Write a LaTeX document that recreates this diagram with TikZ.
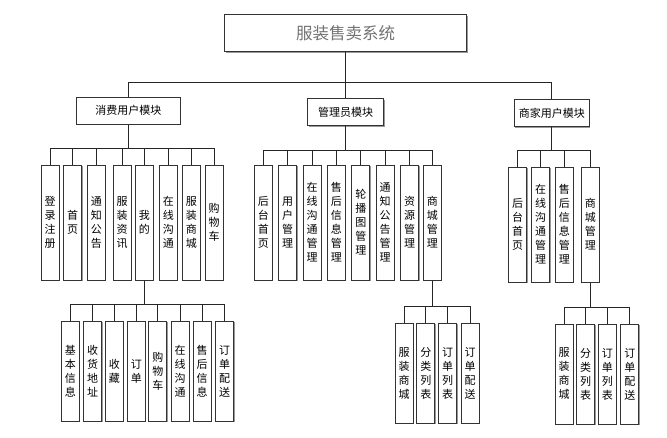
\documentclass[tikz,border=0pt]{standalone}
\usepackage{fontspec}
\newfontfamily\cjk{Noto Sans CJK SC}
\usetikzlibrary{shadows}
\begin{document}
\begin{tikzpicture}[x=1pt,y=-1pt,
  box/.style={draw=black!80, line width=1pt, fill=white, drop shadow={shadow xshift=1pt,shadow yshift=-1pt,fill=black!40,opacity=1}, inner sep=0pt},
  vbox/.style={box, minimum width=18pt, minimum height=115pt, align=center, font=\cjk\fontsize{11}{14}\selectfont},
  sbox/.style={vbox, minimum height=100pt},
  mbox/.style={box, minimum height=27pt, font=\cjk\fontsize{11}{12}\selectfont},
  conn/.style={draw=black!85, line width=0.8pt}]
\useasboundingbox (0,0) rectangle (667,437);

\node[box, minimum width=242pt, minimum height=37pt, font=\cjk\fontsize{16.5}{18}\selectfont, text=black!55] (root) at (345.5,33.3) {服装售卖系统};

\node[mbox, minimum width=104pt] (m1) at (128.3,110.5) {消费用户模块};
\node[mbox, minimum width=76pt] (m2) at (345.7,112) {管理员模块};
\node[mbox, minimum width=75pt] (m3) at (551.8,113.3) {商家用户模块};

% consumer level
\node[vbox] (c1) at (50,222.5) {登\\录\\注\\册};
\node[vbox] (c2) at (72.5,222.5) {首\\页};
\node[vbox] (c3) at (96.3,222.5) {通\\知\\公\\告};
\node[vbox] (c4) at (122,222.5) {服\\装\\资\\讯};
\node[vbox] (c5) at (144.3,222.5) {我\\的};
\node[vbox] (c6) at (168.3,222.5) {在\\线\\沟\\通};
\node[vbox] (c7) at (191.3,222.5) {服\\装\\商\\城};
\node[vbox] (c8) at (214,222.5) {购\\物\\车};

% admin level
\node[vbox] (a1) at (263.3,222.5) {后\\台\\首\\页};
\node[vbox] (a2) at (287.7,222.5) {用\\户\\管\\理};
\node[vbox] (a3) at (312.2,222.5) {在\\线\\沟\\通\\管\\理};
\node[vbox] (a4) at (336.3,222.5) {售\\后\\信\\息\\管\\理};
\node[vbox] (a5) at (360.8,222.5) {轮\\播\\图\\管\\理};
\node[vbox] (a6) at (385,222.5) {通\\知\\公\\告\\管\\理};
\node[vbox] (a7) at (409.7,222.5) {资\\源\\管\\理};
\node[vbox] (a8) at (432.3,222.5) {商\\城\\管\\理};

% merchant level
\node[vbox] (s1) at (517.7,224.5) {后\\台\\首\\页};
\node[vbox] (s2) at (540.5,224.5) {在\\线\\沟\\通\\管\\理};
\node[vbox] (s3) at (564.3,224.5) {售\\后\\信\\息\\管\\理};
\node[vbox] (s4) at (590.3,224.5) {商\\城\\管\\理};

% consumer sub
\node[sbox] (d1) at (70.3,371.2) {基\\本\\信\\息};
\node[sbox] (d2) at (92.7,371.2) {收\\货\\地\\址};
\node[sbox] (d3) at (114.3,371.2) {收\\藏};
\node[sbox] (d4) at (136.3,371.2) {订\\单};
\node[sbox] (d5) at (157.8,371.2) {购\\物\\车};
\node[sbox] (d6) at (180,371.2) {在\\线\\沟\\通};
\node[sbox] (d7) at (202,371.2) {售\\后\\信\\息};
\node[sbox] (d8) at (224.7,371.2) {订\\单\\配\\送};

% admin sub
\node[sbox] (e1) at (404.2,373.3) {服\\装\\商\\城};
\node[sbox] (e2) at (425.8,373.3) {分\\类\\列\\表};
\node[sbox] (e3) at (447.7,373.3) {订\\单\\列\\表};
\node[sbox] (e4) at (470.2,373.3) {订\\单\\配\\送};

% merchant sub
\node[sbox] (f1) at (564.2,374) {服\\装\\商\\城};
\node[sbox] (f2) at (585.5,374) {分\\类\\列\\表};
\node[sbox] (f3) at (607.3,374) {订\\单\\列\\表};
\node[sbox] (f4) at (629.8,374) {订\\单\\配\\送};

% connectors
\coordinate (b0) at (345.5,82.5);
\coordinate (b1) at (128.3,148);
\coordinate (b2) at (345.7,150);
\coordinate (b3) at (551.8,150);
\coordinate (b4) at (144.3,304);
\coordinate (b5) at (432.3,306);
\coordinate (b6) at (590.3,307);

\draw[conn] (root.south) -- (b0);
\draw[conn] (m1.north |- b0) -- (m3.north |- b0);
\foreach \n in {m1,m2,m3} \draw[conn] (\n.north) -- (\n.north |- b0);

\draw[conn] (m1.south) -- (b1);
\draw[conn] (c1.north |- b1) -- (c8.north |- b1);
\foreach \n in {c1,c2,c3,c4,c5,c6,c7,c8} \draw[conn] (\n.north) -- (\n.north |- b1);

\draw[conn] (m2.south) -- (b2);
\draw[conn] (a1.north |- b2) -- (a8.north |- b2);
\foreach \n in {a1,a2,a3,a4,a5,a6,a7,a8} \draw[conn] (\n.north) -- (\n.north |- b2);

\draw[conn] (m3.south) -- (b3);
\draw[conn] (s1.north |- b3) -- (s4.north |- b3);
\foreach \n in {s1,s2,s3,s4} \draw[conn] (\n.north) -- (\n.north |- b3);

\draw[conn] (c5.south) -- (b4);
\draw[conn] (d1.north |- b4) -- (d8.north |- b4);
\foreach \n in {d1,d2,d3,d4,d5,d6,d7,d8} \draw[conn] (\n.north) -- (\n.north |- b4);

\draw[conn] (a8.south) -- (b5);
\draw[conn] (e1.north |- b5) -- (e4.north |- b5);
\foreach \n in {e1,e2,e3,e4} \draw[conn] (\n.north) -- (\n.north |- b5);

\draw[conn] (s4.south) -- (b6);
\draw[conn] (f1.north |- b6) -- (f4.north |- b6);
\foreach \n in {f1,f2,f3,f4} \draw[conn] (\n.north) -- (\n.north |- b6);
\end{tikzpicture}
\end{document}
